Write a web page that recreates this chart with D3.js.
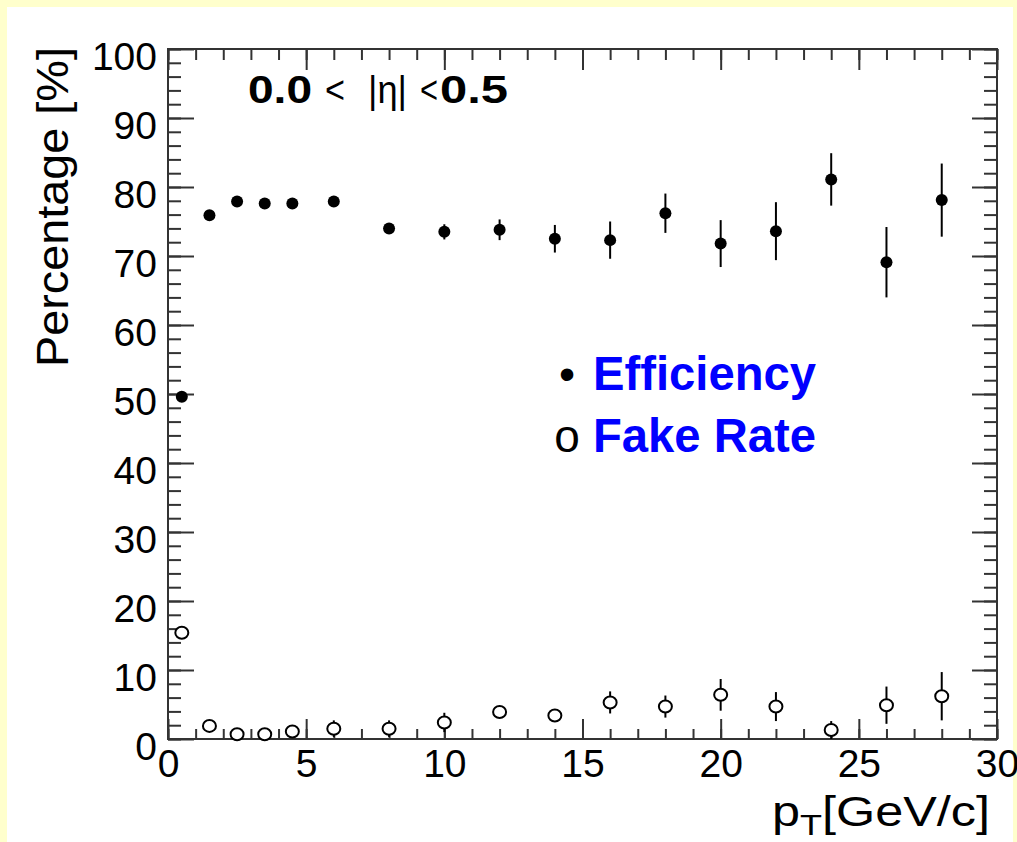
<!DOCTYPE html>
<html>
<head>
<meta charset="utf-8">
<script src="https://cdn.jsdelivr.net/npm/d3@7"></script>
<style>
    body { margin: 0; background: #ffffcc; }
    svg { display: block; font-family: "Liberation Sans", Arial, sans-serif; }
</style>
</head>
<body>
<svg id="chart" width="1017" height="842"></svg>
<script>
// Data (pT bin centres, percentages, error half-widths)
const ptBins = [0.5, 1.5, 2.5, 3.5, 4.5, 6, 8, 10, 12, 14, 16, 18, 20, 22, 24, 26, 28];
const efficiency = [49.6, 75.9, 77.9, 77.6, 77.6, 77.9, 74.0, 73.5, 73.8, 72.5, 72.3, 76.2, 71.8, 73.6, 81.1, 69.1, 78.1];
const efficiencyErr = [0.4, 0.4, 0.4, 0.4, 0.4, 0.5, 0.6, 1.1, 1.5, 2.0, 2.7, 2.85, 3.4, 4.2, 3.8, 5.1, 5.3];
const fakeRate = [15.4, 1.9, 0.7, 0.7, 1.1, 1.5, 1.5, 2.4, 3.9, 3.4, 5.3, 4.7, 6.4, 4.7, 1.3, 4.9, 6.2];
const fakeRateErr = [0.3, 0.5, 0.5, 0.5, 0.6, 1.2, 1.2, 1.4, 0.8, 0.8, 1.6, 1.6, 2.3, 2.1, 1.3, 2.7, 3.5];

const xMajor = [0, 5, 10, 15, 20, 25, 30];
const xMinor = d3.range(0, 31, 1);
const yMajor = [0, 10, 20, 30, 40, 50, 60, 70, 80, 90, 100];
const yMinor = d3.range(0, 101, 2);

const legendItems = [
    { symbol: "\u2022", label: "Efficiency" },
    { symbol: "o", label: "Fake Rate" }
];

/**************************************************************************************************/
const svg = d3.select("#chart");
const frameColor = "#333";

svg.append("rect")
    .attr("x", 7).attr("y", 7)
    .attr("width", 1006).attr("height", 835)
    .attr("fill", "#ffffff");

const x = d3.scaleLinear().domain([0, 30]).range([168, 997]);
const y = d3.scaleLinear().domain([0, 100]).range([739, 49]);

function styleAxis(g) {
    g.select(".domain").remove();
    g.selectAll("line").attr("stroke", frameColor).attr("stroke-width", 2);
    g.selectAll("text")
        .attr("font-size", 39)
        .attr("fill", "#000");
}

// bottom
svg.append("g").attr("transform", `translate(0,${y(0)})`)
    .call(d3.axisBottom(x).tickValues(xMinor).tickSize(-10).tickSizeOuter(0).tickFormat(""))
    .call(styleAxis);
svg.append("g").attr("transform", `translate(0,${y(0)})`)
    .call(d3.axisBottom(x).tickValues(xMajor).tickSize(-20).tickSizeOuter(0).tickPadding(10))
    .call(styleAxis);
// top
svg.append("g").attr("transform", `translate(0,${y(100)})`)
    .call(d3.axisTop(x).tickValues(xMinor).tickSize(-11).tickSizeOuter(0).tickFormat(""))
    .call(styleAxis);
svg.append("g").attr("transform", `translate(0,${y(100)})`)
    .call(d3.axisTop(x).tickValues(xMajor).tickSize(-21).tickSizeOuter(0).tickFormat(""))
    .call(styleAxis);
// left
svg.append("g").attr("transform", `translate(${x(0)},0)`)
    .call(d3.axisLeft(y).tickValues(yMinor).tickSize(-13).tickSizeOuter(0).tickFormat(""))
    .call(styleAxis);
svg.append("g").attr("transform", `translate(${x(0)},0)`)
    .call(d3.axisLeft(y).tickValues(yMajor).tickSize(-26).tickSizeOuter(0).tickPadding(11))
    .call(styleAxis)
    .call(g => g.selectAll("text").attr("dy", "0.52em"));
// right
svg.append("g").attr("transform", `translate(${x(30)},0)`)
    .call(d3.axisRight(y).tickValues(yMinor).tickSize(-13).tickSizeOuter(0).tickFormat(""))
    .call(styleAxis);
svg.append("g").attr("transform", `translate(${x(30)},0)`)
    .call(d3.axisRight(y).tickValues(yMajor).tickSize(-25).tickSizeOuter(0).tickFormat(""))
    .call(styleAxis);

// frame
svg.append("rect")
    .attr("x", x(0)).attr("y", y(100))
    .attr("width", x(30) - x(0)).attr("height", y(0) - y(100))
    .attr("fill", "none")
    .attr("stroke", frameColor)
    .attr("stroke-width", 2);

/**************************************************************************************************/
/* Data points */
const effData = d3.zip(ptBins, efficiency, efficiencyErr);
const fakeData = d3.zip(ptBins, fakeRate, fakeRateErr);

const points = svg.append("g");

points.selectAll("line.effErr")
    .data(effData)
    .join("line")
        .attr("class", "effErr")
        .attr("x1", ([p]) => x(p)).attr("x2", ([p]) => x(p))
        .attr("y1", ([p, v, e]) => y(v + e))
        .attr("y2", ([p, v, e]) => y(Math.max(0, v - e)))
        .attr("stroke", "#000").attr("stroke-width", 2);
points.selectAll("circle.eff")
    .data(effData)
    .join("circle")
        .attr("class", "eff")
        .attr("cx", ([p]) => x(p))
        .attr("cy", ([p, v]) => y(v))
        .attr("r", 6)
        .attr("fill", "#000");

points.selectAll("line.fakeErr")
    .data(fakeData)
    .join("line")
        .attr("class", "fakeErr")
        .attr("x1", ([p]) => x(p)).attr("x2", ([p]) => x(p))
        .attr("y1", ([p, v, e]) => y(v + e))
        .attr("y2", ([p, v, e]) => y(Math.max(0, v - e)))
        .attr("stroke", "#000").attr("stroke-width", 2);
points.selectAll("ellipse.fake")
    .data(fakeData)
    .join("ellipse")
        .attr("class", "fake")
        .attr("cx", ([p]) => x(p))
        .attr("cy", ([p, v]) => y(v))
        .attr("rx", 6.5).attr("ry", 6)
        .attr("fill", "#fff")
        .attr("stroke", "#000").attr("stroke-width", 2);

/**************************************************************************************************/
/* Titles and labels */
svg.append("text")
    .attr("transform", "translate(68,47) rotate(-90)")
    .attr("text-anchor", "end")
    .attr("font-size", 44)
    .attr("textLength", 320)
    .attr("lengthAdjust", "spacingAndGlyphs")
    .text("Percentage [%]");

const xTitle = svg.append("text")
    .attr("x", 772).attr("y", 826)
    .attr("font-size", 42)
    .attr("textLength", 218)
    .attr("lengthAdjust", "spacingAndGlyphs");
xTitle.append("tspan").text("p");
xTitle.append("tspan").attr("font-size", 30).attr("dy", 9).text("T");
xTitle.append("tspan").attr("dy", -9).text("[GeV/c]");

// eta range label
const etaParts = [
    { t: "0.0", x0: 248, w: 64, bold: true },
    { t: "<", x0: 325, w: 20, bold: false },
    { t: "|\u03b7|", x0: 368, w: 39, bold: false },
    { t: "<", x0: 420, w: 18, bold: false },
    { t: "0.5", x0: 440, w: 68, bold: true }
];
svg.append("g").selectAll("text")
    .data(etaParts)
    .join("text")
        .attr("x", d => d.x0)
        .attr("y", 103)
        .attr("font-size", 38)
        .attr("font-weight", d => d.bold ? "bold" : "normal")
        .attr("textLength", d => d.w)
        .attr("lengthAdjust", "spacingAndGlyphs")
        .text(d => d.t);

// legend
const legend = svg.append("g");
legend.selectAll("text.sym")
    .data(legendItems)
    .join("text")
        .attr("class", "sym")
        .attr("x", 567)
        .attr("y", (d, i) => 390 + i * 62)
        .attr("text-anchor", "middle")
        .attr("font-size", 46)
        .text(d => d.symbol);
legend.selectAll("text.lab")
    .data(legendItems)
    .join("text")
        .attr("class", "lab")
        .attr("x", 593)
        .attr("y", (d, i) => 390 + i * 62)
        .attr("font-size", 48)
        .attr("font-weight", "bold")
        .attr("fill", "#0000ff")
        .attr("textLength", 223)
        .attr("lengthAdjust", "spacingAndGlyphs")
        .text(d => d.label);
</script>
</body>
</html>
